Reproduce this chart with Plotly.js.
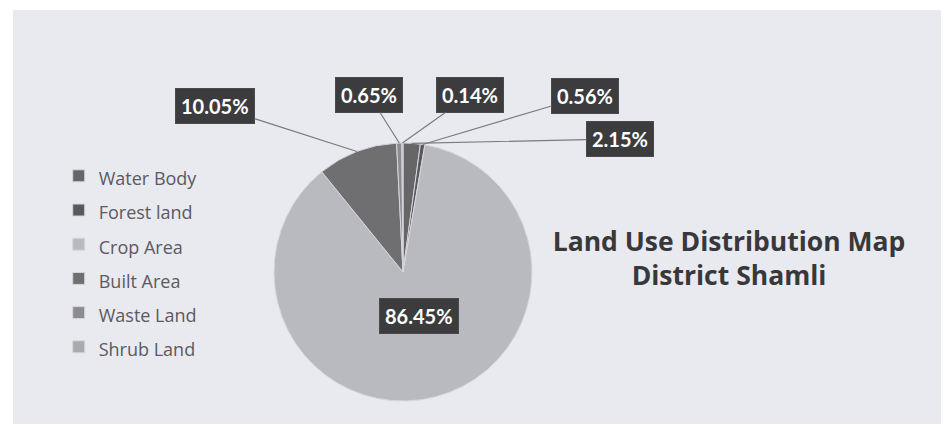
<!DOCTYPE html>
<html>
<head>
<meta charset="utf-8">
<script src="https://cdn.plot.ly/plotly-3.0.1.min.js"></script>
<style>html,body{margin:0;padding:0;background:#fff;}#chart{width:947px;height:427px;}</style>
</head>
<body>
<div id="chart"></div>
<script>
// ---- data ----
const categories = ['Water Body', 'Forest land', 'Crop Area', 'Built Area', 'Waste Land', 'Shrub Land'];
const shares = [2.15, 0.56, 86.45, 10.05, 0.65, 0.14];
const shareLabels = ['2.15%', '0.56%', '86.45%', '10.05%', '0.65%', '0.14%'];

// ---- style / layout constants ----
const W = 947, H = 427;
const sliceColors = ['#666668', '#59595c', '#b9b9c0', '#6f6f72', '#8c8c90', '#a9a9ae'];
const cx = 403, cy = 272, R = 129;             // pie centre & radius in px
const boxPos = [[620, 139], [585, 96], null, [215, 106], [369, 95], [470, 95]]; // label box centres (px)
const insideFrac = 0.5;

const px = x => x / W;
const py = y => 1 - y / H;

const total = shares.reduce((a, b) => a + b, 0);
const annotations = [];
let cum = 0;
shares.forEach((v, i) => {
  const mid = (cum + v / 2) / total * 2 * Math.PI;
  cum += v;
  const common = {
    xref: 'paper', yref: 'paper',
    text: shareLabels[i],
    font: {family: 'Lato, "Open Sans", sans-serif', size: 20, color: '#ffffff', weight: 700},
    bgcolor: '#3c3c3e', bordercolor: '#4a4a4c', borderwidth: 1, borderpad: 5
  };
  if (boxPos[i] === null) {
    const tx = cx + insideFrac * R * Math.sin(mid);
    const ty = cy - insideFrac * R * Math.cos(mid);
    annotations.push(Object.assign({}, common, {x: px(tx), y: py(ty), showarrow: false}));
  } else {
    const tx = cx + R * Math.sin(mid);
    const ty = cy - R * Math.cos(mid);
    annotations.push(Object.assign({}, common, {
      x: px(tx), y: py(ty), showarrow: true, arrowhead: 0, arrowwidth: 1.2,
      arrowcolor: '#7a7a80', standoff: 0,
      axref: 'pixel', ayref: 'pixel',
      ax: boxPos[i][0] - tx, ay: boxPos[i][1] - ty
    }));
  }
});

const trace = {
  type: 'pie',
  labels: categories.map(c => '<span style="font-size:18px">' + c + '</span>'),
  values: shares,
  sort: false,
  direction: 'clockwise',
  rotation: 0,
  textinfo: 'none',
  hoverinfo: 'label+percent',
  marker: {colors: sliceColors, line: {color: '#d6d6dc', width: 1}},
  domain: {x: [px(cx - R), px(cx + R)], y: [py(cy + R), py(cy - R)]}
};

const layout = {
  width: W, height: H,
  margin: {l: 0, r: 0, t: 0, b: 0},
  paper_bgcolor: '#ffffff',
  showlegend: true,
  legend: {
    x: 0.062, y: 0.64, xanchor: 'left', yanchor: 'top',
    bgcolor: 'rgba(0,0,0,0)',
    font: {family: '"Open Sans", Lato, sans-serif', size: 24, color: '#5a5a60'}
  },
  title: {
    text: 'Land Use Distribution Map<br>District Shamli',
    x: 729 / W, xanchor: 'center', y: py(251), yanchor: 'middle', xref: 'paper', yref: 'paper',
    font: {family: '"Open Sans", Lato, sans-serif', size: 26.5, color: '#38383a', weight: 700}
  },
  shapes: [{
    type: 'rect', xref: 'paper', yref: 'paper', layer: 'below',
    x0: px(13), x1: px(941), y0: py(424), y1: py(10),
    fillcolor: '#e9e9f0', line: {width: 0}
  }],
  annotations: annotations
};

Plotly.newPlot('chart', [trace], layout, {displayModeBar: false, staticPlot: true});
</script>
</body>
</html>
